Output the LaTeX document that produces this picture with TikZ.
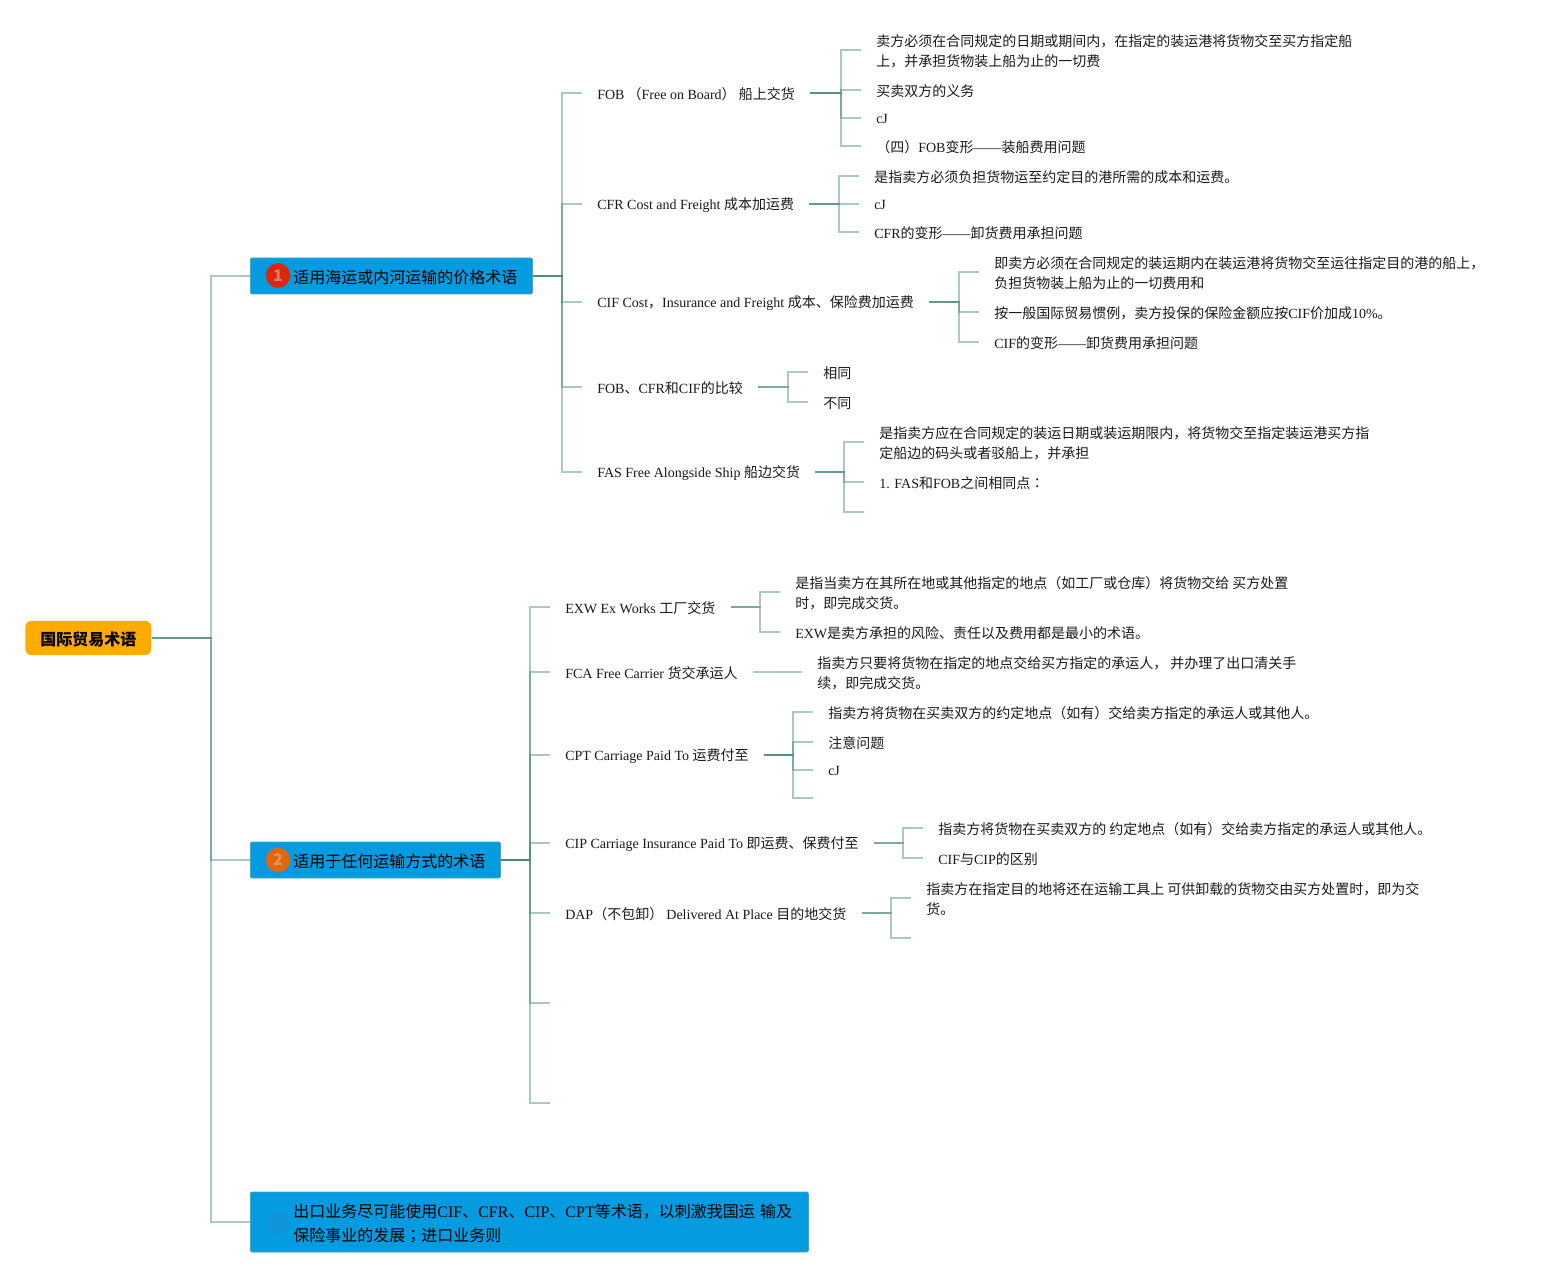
\documentclass[tikz,border=0pt]{standalone}
\usepackage{fontspec}
\setmainfont{Noto Sans CJK SC}
\newfontfamily\ltnf{Liberation Serif}
\newfontfamily\tcf{Noto Sans CJK TC}
\newcommand\ltn[1]{{\ltnf #1}}
\newcommand\tcp[1]{{\tcf #1}}
\definecolor{rootfill}{HTML}{FFAB00}
\definecolor{boxfill}{HTML}{059BE0}
\definecolor{boxedge}{HTML}{3FA9BE}
\definecolor{linkcol}{RGB}{70,135,120}
\definecolor{txtcol}{HTML}{1A1A1A}
\definecolor{redbadge}{HTML}{D9280E}
\definecolor{redmark}{HTML}{EC7A60}
\definecolor{orangebadge}{HTML}{E0660F}
\definecolor{orangemark}{HTML}{E8935A}
\definecolor{bluebadge}{HTML}{1095DC}
\newcommand\padL{\hspace*{32.25pt}}
\newcommand\padR{\hspace*{11.25pt}}
\newcommand\drop[2]{\raisebox{-#1}[\height][\depth]{#2}}
\newlength\lift \setlength\lift{1.25pt}
% connectors: parent, trunk x, child
\newcommand\connRoot[3]{\coordinate (tr) at (#2,0);
  \draw[link] (#1.east) -- (#1.east -| tr) -- (tr |- #3.west) -- (#3.west);}
\newcommand\connTop[3]{\coordinate (tr) at (#2,0);\coordinate (ce) at ([yshift=\lift]#3.west);
  \draw[link] (#1.east) -- (#1.east -| tr) -- (tr |- ce) -- (ce);}
\newcommand\connSub[3]{\coordinate (tr) at (#2,0);\coordinate (ce) at ([yshift=\lift]#3.west);\coordinate (cs) at ([yshift=\lift]#1.east);
  \draw[link] (cs) -- (cs -| tr) -- (tr |- ce) -- (ce);}
\tikzset{
  link/.style={draw=linkcol,opacity=0.45,line width=1.5pt,line join=miter},
  txt/.style={anchor=west,align=left,inner xsep=11.25pt,inner ysep=0pt,text=txtcol,yshift=-1.1pt,
    font=\fontsize{10.5pt}{15pt}\selectfont},
  freeend/.style={yshift=-1.1pt},
  rootbox/.style={fill=rootfill,rounded corners=4.5pt,anchor=west,minimum width=94.5pt,minimum height=25.5pt,
    inner sep=0pt,font=\fontsize{12pt}{18pt}\selectfont\bfseries,text=black},
  topic/.style={fill=boxfill,draw=boxedge,line width=0.6pt,rounded corners=1pt,anchor=west,inner sep=0pt,
    align=left,text=black,font=\fontsize{12pt}{18pt}\selectfont},
  badge/.style={circle,inner sep=0pt,minimum size=18.5pt,font=\fontsize{12pt}{12pt}\selectfont\bfseries},
}
\begin{document}
\begin{tikzpicture}[x=0.75pt,y=-0.75pt]
\useasboundingbox (0,0) rectangle (1554,1276);
\fill[white] (0,0) rectangle (1554,1276);
% root and topics
\node[rootbox] (root) at (25,638) {\drop{0.75pt}{国际贸易术语}};
\node[topic,minimum width=211.5pt,minimum height=27pt] (b1) at (250,276) {\padL\drop{0.75pt}{适用海运或内河运输的价格术语}\padR};
\node[topic,minimum width=187.5pt,minimum height=27pt] (b2) at (250,860) {\padL\drop{0.75pt}{适用于任何运输方式的术语}\padR};
\node[topic,minimum width=418.5pt,minimum height=45pt,text width=418.5pt] (b3) at (250,1222)
  {\padL\drop{1.5pt}{出口业务尽可能使用\ltn{CIF}、\ltn{CFR}、\ltn{CIP}、\ltn{CPT}等术语，以刺激我国运 输及}\\\padL\drop{1.5pt}{保险事业的发展\tcp{；}进口业务则}};
\node[badge,fill=redbadge,text=redmark] (n1) at (278,275.5) {1};
\node[badge,fill=orangebadge,text=orangemark] (n2) at (278,860) {2};
\node[badge,fill=bluebadge] (n3) at (278,1222) {};
% group 1
\node[txt] (fob) at (582,93) {\ltn{FOB} （\ltn{Free on Board}） 船上交货};
\node[txt] (cfr) at (582,204) {\ltn{CFR Cost and Freight }成本加运费};
\node[txt] (cif) at (582,302) {\ltn{CIF Cost}，\ltn{Insurance and Freight }成本、保险费加运费};
\node[txt] (cmp) at (582,387) {\ltn{FOB}、\ltn{CFR}和\ltn{CIF}的比较};
\node[txt] (fas) at (582,472) {\ltn{FAS Free Alongside Ship }船边交货};
\node[txt] (fob1) at (861,50) {卖方必须在合同规定的日期或期间内，在指定的装运港将货物交至买方指定船\\上，并承担货物装上船为止的一切费};
\node[txt] (fob2) at (861,90) {买卖双方的义务};
\node[txt] (fob3) at (861,118) {\ltn{cJ}};
\node[txt] (fob4) at (861,146) {（四）\ltn{FOB}变形\ltn{——}装船费用问题};
\node[txt] (cfr1) at (859,176) {是指卖方必须负担货物运至约定目的港所需的成本和运费。};
\node[txt] (cfr2) at (859,204) {\ltn{cJ}};
\node[txt] (cfr3) at (859,232) {\ltn{CFR}的变形\ltn{——}卸货费用承担问题};
\node[txt] (cif1) at (979,272) {即卖方必须在合同规定的装运期内在装运港将货物交至运往指定目的港的船上，\\负担货物装上船为止的一切费用和};
\node[txt] (cif2) at (979,312) {按一般国际贸易惯例，卖方投保的保险金额应按\ltn{CIF}价加成\ltn{10\%}。};
\node[txt] (cif3) at (979,342) {\ltn{CIF}的变形\ltn{——}卸货费用承担问题};
\node[txt] (cmp1) at (808,372) {相同};
\node[txt] (cmp2) at (808,402) {不同};
\node[txt] (fas1) at (864,442) {是指卖方应在合同规定的装运日期或装运期限内，将货物交至指定装运港买方指\\定船边的码头或者驳船上，并承担};
\node[txt] (fas2) at (864,482) {\ltn{1. FAS}和\ltn{FOB}之间相同点\tcp{：}};
\coordinate[freeend] (fas3) at (864,512);
% group 2
\node[txt] (exw) at (550,607) {\ltn{EXW Ex Works }工厂交货};
\node[txt] (fca) at (550,672) {\ltn{FCA Free Carrier }货交承运人};
\node[txt] (cpt) at (550,755) {\ltn{CPT Carriage Paid To }运费付至};
\node[txt] (cip) at (550,843) {\ltn{CIP Carriage Insurance Paid To }即运费、保费付至};
\node[txt] (dap) at (550,913) {\ltn{DAP}（不包卸） \ltn{Delivered At Place }目的地交货};
\coordinate[freeend] (e1) at (550,1003);
\coordinate[freeend] (e2) at (550,1103);
\node[txt] (exw1) at (780,592) {是指当卖方在其所在地或其他指定的地点（如工厂或仓库）将货物交给 买方处置\\时，即完成交货。};
\node[txt] (exw2) at (780,632) {\ltn{EXW}是卖方承担的风险、责任以及费用都是最小的术语。};
\node[txt] (fca1) at (802,672) {指卖方只要将货物在指定的地点交给买方指定的承运人， 并办理了出口清关手\\续，即完成交货。};
\node[txt] (cpt1) at (813,712) {指卖方将货物在买卖双方的约定地点（如有）交给卖方指定的承运人或其他人。};
\node[txt] (cpt2) at (813,742) {注意问题};
\node[txt] (cpt3) at (813,770) {\ltn{cJ}};
\coordinate[freeend] (cpt4) at (813,798);
\node[txt] (cip1) at (923,828) {指卖方将货物在买卖双方的 约定地点（如有）交给卖方指定的承运人或其他人。};
\node[txt] (cip2) at (923,858) {\ltn{CIF}与\ltn{CIP}的区别};
\node[txt] (dap1) at (911,898) {指卖方在指定目的地将还在运输工具上 可供卸载的货物交由买方处置时，即为交\\货。};
\coordinate[freeend] (dap2) at (911,938);
% connectors
\foreach \c in {b1,b2,b3} {\connRoot{root}{211}{\c}}
\foreach \c in {fob,cfr,cif,cmp,fas} {\connTop{b1}{562}{\c}}
\foreach \c in {exw,fca,cpt,cip,dap,e1,e2} {\connTop{b2}{530}{\c}}
\foreach \c in {fob1,fob2,fob3,fob4} {\connSub{fob}{841}{\c}}
\foreach \c in {cfr1,cfr2,cfr3} {\connSub{cfr}{839}{\c}}
\foreach \c in {cif1,cif2,cif3} {\connSub{cif}{959}{\c}}
\foreach \c in {cmp1,cmp2} {\connSub{cmp}{788}{\c}}
\foreach \c in {fas1,fas2,fas3} {\connSub{fas}{844}{\c}}
\foreach \c in {exw1,exw2} {\connSub{exw}{760}{\c}}
\coordinate (fa) at ([yshift=\lift]fca.east);
\coordinate (fb) at ([yshift=\lift]fca1.west);
\draw[link] (fa) -- (fb);
\foreach \c in {cpt1,cpt2,cpt3,cpt4} {\connSub{cpt}{793}{\c}}
\foreach \c in {cip1,cip2} {\connSub{cip}{903}{\c}}
\foreach \c in {dap1,dap2} {\connSub{dap}{891}{\c}}
\end{tikzpicture}
\end{document}
